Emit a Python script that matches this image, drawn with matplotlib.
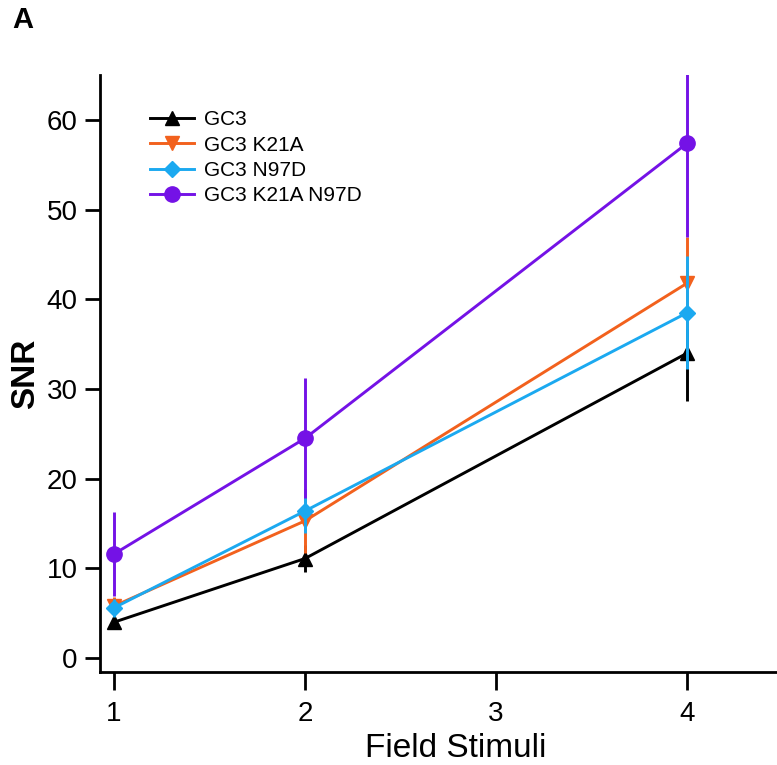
import matplotlib.pyplot as plt
import numpy as np

plt.rcParams['font.family'] = ['Liberation Sans', 'DejaVu Sans']

# 数据
stimuli = [1, 2, 4]
labels = ["GC3", "GC3 K21A", "GC3 N97D", "GC3 K21A N97D"]
snr_gc3 = [4.0, 11.1, 34.0]
err_gc3 = [0.5, 1.5, 5.3]
snr_k21a = [5.8, 15.3, 41.8]
err_k21a = [1.0, 3.6, 5.1]
snr_n97d = [5.6, 16.4, 38.5]
err_n97d = [1.0, 2.4, 6.3]
snr_double = [11.6, 24.5, 57.4]
err_double = [4.7, 6.7, 10.5]

series = [snr_gc3, snr_k21a, snr_n97d, snr_double]
errors = [err_gc3, err_k21a, err_n97d, err_double]
colors = ["#000000", "#F2611D", "#1BA9F0", "#7412E6"]
markers = ["^", "v", "D", "o"]
msizes = [10, 10, 8, 11]

fig = plt.figure(figsize=(7.77, 7.65), dpi=100)
ax = fig.add_axes([100/777, 1-672/765, 1-100/777, (672-75)/765])

handles = []
for i in range(4):
    c = ax.errorbar(stimuli, series[i], yerr=errors[i], color=colors[i], marker=markers[i],
                    markersize=msizes[i], linewidth=2.1, elinewidth=2.1, capsize=0,
                    label=labels[i], zorder=2+i)
    handles.append(c.lines[0])

ax.set_xlim(0.927, 4.47)
ax.set_ylim(-1.55, 65)
ax.set_xticks([1, 2, 3, 4])
ax.set_yticks([0, 10, 20, 30, 40, 50, 60])
ax.spines['top'].set_visible(False)
ax.spines['right'].set_visible(False)
ax.spines['left'].set_linewidth(2)
ax.spines['bottom'].set_linewidth(2)
ax.tick_params(axis='x', direction='out', length=13, width=2, labelsize=20, pad=8)
ax.tick_params(axis='y', direction='out', length=11, width=2, labelsize=20, pad=5)

ax.set_xlabel("Field Stimuli", fontsize=24)
ax.xaxis.set_label_coords((456-100)/677, -0.103)
ax.set_ylabel("SNR", fontsize=24, fontweight='bold', labelpad=4)

leg = ax.legend(handles, labels, loc='upper left', bbox_to_anchor=(140/777, 1-100/765),
                bbox_transform=fig.transFigure, frameon=False, fontsize=15,
                handlelength=2.1, handletextpad=0.45, labelspacing=0.3, borderpad=0)

fig.text(12/777, 1-20/765, "A", fontsize=21, fontweight='bold', va='center', ha='left')

fig.savefig("out.png", dpi=100)
